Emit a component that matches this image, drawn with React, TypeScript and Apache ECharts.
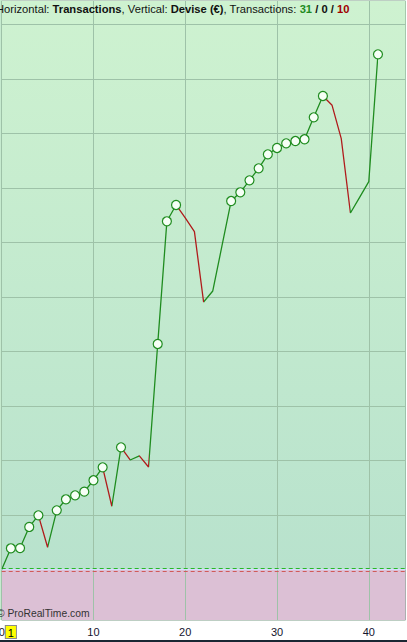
import React, { useEffect, useRef } from "react";
import * as echarts from "echarts";

// Equity curve after each transaction (index = transaction number)
const equity = [
  0, 389, 392, 780, 994, 407, 1086, 1288, 1361, 1428, 1637, 1875, 1160, 2242,
  2009, 2083, 1881, 4138, 6389, 6688, 6450, 6198, 4908, 5110, 5936, 6761, 6921,
  7141, 7361, 7618, 7734, 7820, 7862, 7894, 8297, 8688, 8517, 7905, 6541, 6829,
  7116, 9453,
];
const xGridValues = [0, 10, 20, 30, 40];
const xLabelValues = [0, 1, 10, 20, 30, 40];
const yGridValues = [1000, 2000, 3000, 4000, 5000, 6000, 7000, 8000, 9000, 10000];
const winCount = 31;
const neutralCount = 0;
const lossCount = 10;

const Y_MIN = -927;
const Y_MAX = 10431;
const X_MAX = 44;

const GREEN = "#1f8c1f";
const RED = "#b01c1c";
const GRID_COLOR = "#9ec2a8";
const FONT = "'Liberation Sans', Arial, sans-serif";

export default function App() {
  const ref = useRef<HTMLDivElement>(null);
  useEffect(() => {
    if (!ref.current) return;
    const chart = echarts.init(ref.current, null, { renderer: "svg" });

    const lineData = equity.map((v, i) => [i, v]);
    // new equity highs get a circle marker
    const highs: number[][] = [];
    let runMax = equity[0];
    equity.forEach((v, i) => {
      if (i > 0 && v > runMax) highs.push([i, v]);
      if (v > runMax) runMax = v;
    });
    const pieces: any[] = equity.slice(0, -1).map((v, i) => ({
      gte: i,
      lt: i + 1,
      color: equity[i + 1] >= v ? GREEN : RED,
    }));
    const last = pieces[pieces.length - 1];
    pieces[pieces.length - 1] = { gte: last.gte, lte: last.lt, color: last.color };

    const markLines: any[] = [
      ...yGridValues.map((v) => ({ yAxis: v, lineStyle: { color: GRID_COLOR, width: 1, type: "solid" } })),
      ...xGridValues.map((v) => ({ xAxis: v, lineStyle: { color: GRID_COLOR, width: 1, type: "solid" } })),
      { yAxis: 22, lineStyle: { color: "#27b827", width: 1, type: [4, 3] } },
      { yAxis: 0, lineStyle: { color: "#d6ddff", width: 1, type: "solid" } },
      { yAxis: -30, lineStyle: { color: "#d05a5a", width: 1, type: [4, 3] } },
    ];

    chart.setOption({
      animation: false,
      grid: {
        left: 1.7,
        right: 1.5,
        top: 1,
        bottom: 22,
        show: true,
        borderColor: "#7d9e88",
        borderWidth: 1,
        backgroundColor: "transparent",
        containLabel: false,
        outerBoundsMode: "none",
      },
      xAxis: {
        type: "value",
        min: 0,
        max: X_MAX,
        interval: 10,
        splitLine: { show: false },
        axisLine: { show: false },
        axisTick: { show: false },
        axisLabel: {
          customValues: xLabelValues,
          margin: 6,
          fontSize: 11,
          fontFamily: FONT,
          color: "#14142e",
          formatter: (v: number) => (v === 1 ? "{hl|1}" : String(v)),
          rich: {
            hl: {
              backgroundColor: "#ffff00",
              borderColor: "#8a8a8a",
              borderWidth: 1,
              padding: [1, 2, 0, 2],
              fontSize: 11,
              fontFamily: FONT,
              color: "#000",
            },
          },
        },
      },
      yAxis: {
        type: "value",
        position: "right",
        min: Y_MIN,
        max: Y_MAX,
        splitLine: { show: false },
        axisLine: { show: false },
        axisLabel: { show: false },
        axisTick: {
          show: true,
          customValues: yGridValues,
          length: 2,
          lineStyle: { color: "#6c8f78" },
        },
      },
      visualMap: {
        show: false,
        type: "piecewise",
        seriesIndex: 0,
        dimension: 0,
        pieces,
      },
      graphic: [
        {
          type: "rect",
          left: 0,
          top: 0,
          z: -10,
          shape: { width: 2, height: 620 },
          style: { fill: "#c6ebcf" },
        },
        {
          type: "text",
          left: -4,
          top: 3,
          z: 100,
          style: {
            text:
              "{n|Horizontal: }{b|Transactions}{n|, Vertical: }{b|Devise (€)}{n|, Transactions: }" +
              `{g|${winCount}}{b| / ${neutralCount} / }{r|${lossCount}}`,
            rich: {
              n: { fontSize: 11.2, fontFamily: FONT, fill: "#111" },
              b: { fontSize: 11.2, fontFamily: FONT, fontWeight: "bold", fill: "#111" },
              g: { fontSize: 11.2, fontFamily: FONT, fontWeight: "bold", fill: "#1d8a1d" },
              r: { fontSize: 11.2, fontFamily: FONT, fontWeight: "bold", fill: "#a00000" },
            },
          },
        },
        {
          type: "text",
          left: -3,
          top: 608,
          z: 100,
          style: { text: "© ProRealTime.com", fontSize: 10.3, fontFamily: FONT, fill: "#333" },
        },
        {
          type: "rect",
          left: 0,
          top: 640,
          z: 100,
          shape: { width: 407, height: 2 },
          style: { fill: "#1b2733" },
        },
      ],
      series: [
        {
          type: "line",
          data: lineData,
          symbol: "none",
          z: 3,
          lineStyle: { width: 1.3 },
        },
        {
          type: "scatter",
          data: highs,
          symbol: "circle",
          symbolSize: 9,
          z: 4,
          itemStyle: { color: "#f6fff6", borderColor: GREEN, borderWidth: 1.2, opacity: 1 },
          markArea: {
            silent: true,
            z: 0,
            data: [
              [
                {
                  yAxis: -10,
                  itemStyle: {
                    color: {
                      type: "linear",
                      x: 0,
                      y: 0,
                      x2: 0,
                      y2: 1,
                      colorStops: [
                        { offset: 0, color: "#cef2d0" },
                        { offset: 1, color: "#b8e2cd" },
                      ],
                    },
                  },
                },
                { yAxis: Y_MAX },
              ],
              [{ yAxis: Y_MIN, itemStyle: { color: "#dcc0d5" } }, { yAxis: -10 }],
            ],
          },
          markLine: {
            silent: true,
            z: 1,
            symbol: "none",
            label: { show: false },
            data: markLines,
          },
        },
      ],
    });
    return () => chart.dispose();
  }, []);
  return (
    <div
      ref={ref}
      style={{ position: "fixed", left: 0, top: 0, width: 407, height: 642, background: "#fff" }}
    />
  );
}
